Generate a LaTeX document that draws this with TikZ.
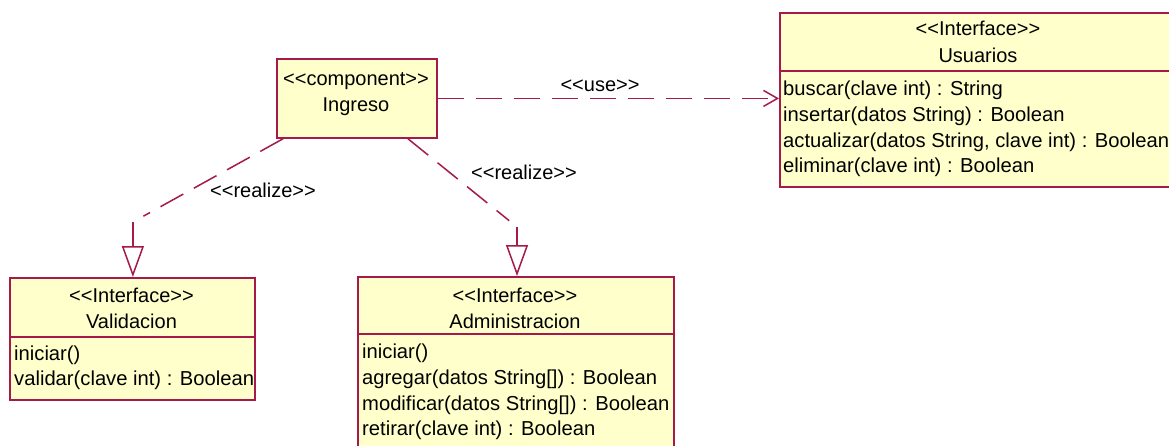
\documentclass[tikz,border=0pt]{standalone}
\usepackage{fontspec}
\setmainfont{Liberation Sans}
\usetikzlibrary{arrows.meta,calc}

\definecolor{umlline}{RGB}{165,25,75}
\definecolor{umlfill}{RGB}{255,255,204}

% guillemet-style stereotype brackets, kept as plain angle pairs
\newcommand\umlst[1]{<\kern0pt<#1>\kern0pt>}

\tikzset{
  cls/.style={draw=umlline, fill=umlfill, line width=1.8pt, rectangle,
              anchor=north west, inner sep=0pt},
  sep/.style={draw=umlline, line width=1.8pt},
  title/.style={anchor=base, inner sep=0pt, font=\fontsize{20}{24}\selectfont},
  op/.style={anchor=base west, inner sep=0pt, font=\fontsize{20.2}{24}\selectfont},
  lbl/.style={anchor=base, inner sep=0pt, font=\fontsize{20}{24}\selectfont},
  dep/.style={draw=umlline, line width=1.5pt, dash pattern=on 26pt off 12pt},
  realtip/.style={draw=umlline, line width=1.5pt,
                  -{Triangle[open, length=31pt, width=22pt, line width=1.5pt]}},
  usetip/.style={-{Straight Barb[length=14pt, width=16pt, line width=1.5pt]}}
}

\begin{document}
\begin{tikzpicture}[x=1pt, y=-1pt]
\useasboundingbox (0,0) rectangle (1169,445);
\clip (0,0) rectangle (1169,445);

% component
\node[cls, minimum width=160pt, minimum height=79pt] (ing) at (276,58) {};
\node[title] (ingS) at (356,85) {\umlst{component}};
\node[title] (ingN) at (356,111) {Ingreso};

% interface Usuarios
\node[cls, minimum width=398pt, minimum height=174pt] (usu) at (779,12) {};
\draw[sep] (779,71) -- (1177,71);
\node[title] (usuS) at (978,35) {\umlst{Interface}};
\node[title] (usuN) at (978,62) {Usuarios};
\node[op] (usu1) at (783,95) {buscar(clave int) : String};
\node[op] (usu2) at (783,121) {insertar(datos String) : Boolean};
\node[op] (usu3) at (783,147) {actualizar(datos String, clave int) : Boolean};
\node[op] (usu4) at (783,172) {eliminar(clave int) : Boolean};

% interface Validacion
\node[cls, minimum width=245pt, minimum height=122pt] (val) at (9,277) {};
\draw[sep] (9,337) -- (254,337);
\node[title] (valS) at (131.5,302) {\umlst{Interface}};
\node[title] (valN) at (131.5,328) {Validacion};
\node[op] (val1) at (14,360) {iniciar()};
\node[op] (val2) at (14,385) {validar(clave int) : Boolean};

% interface Administracion
\node[cls, minimum width=316pt, minimum height=190pt] (adm) at (357,276) {};
\draw[sep] (357,334) -- (673,334);
\node[title] (admS) at (515,302) {\umlst{Interface}};
\node[title] (admN) at (515,328) {Administracion};
\node[op] (adm1) at (362,358) {iniciar()};
\node[op] (adm2) at (362,384) {agregar(datos String[]) : Boolean};
\node[op] (adm3) at (362,410) {modificar(datos String[]) : Boolean};
\node[op] (adm4) at (362,435) {retirar(clave int) : Boolean};

% use dependency
\draw[dep, usetip] (ing.east) -- (ing.east -| usu.west);
\node[lbl] (useL) at (600,91) {\umlst{use}};

% realizations: dashed diagonal, then a solid stem with a hollow triangle
\coordinate (vbend) at ($(val.north)+(0.5,-55)$);
\draw[dep, shorten >=12pt] ($(ing.south west)+(7,0)$) -- (vbend);
\draw[realtip] (vbend) -- ($(val.north)+(0.5,0)$);
\node[lbl] (realL) at (263,197) {\umlst{realize}};

\coordinate (abend) at ($(adm.north west)+(160,-49)$);
\draw[dep, shorten >=10pt] ($(ing.south west)+(132,0)$) -- (abend);
\draw[realtip] (abend) -- ($(adm.north west)+(160,0)$);
\node[lbl] (realR) at (524,179) {\umlst{realize}};
\end{tikzpicture}
\end{document}
